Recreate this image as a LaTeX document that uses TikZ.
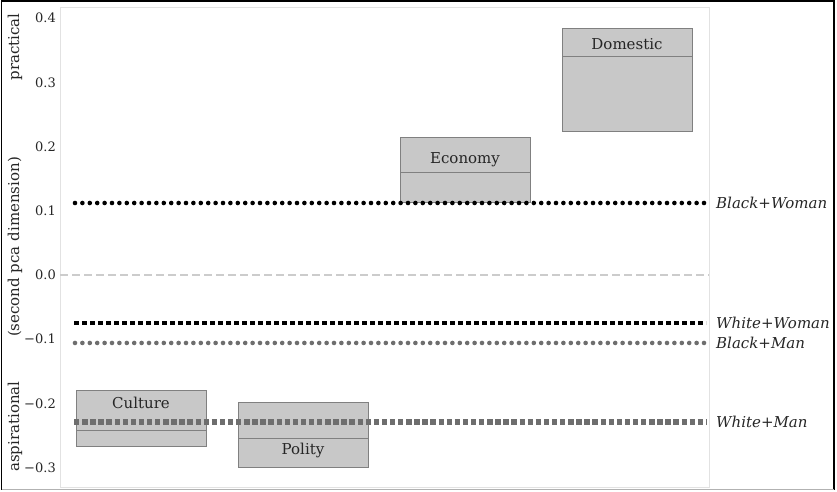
\documentclass[tikz,border=0pt]{standalone}
\usepackage{fontspec}
\setmainfont{DejaVu Serif}
\usetikzlibrary{positioning}
\definecolor{boxgray}{HTML}{C8C8C8}
\definecolor{edgegray}{HTML}{808080}
\definecolor{dotgray}{HTML}{6E6E6E}
\definecolor{zerogray}{HTML}{CCCCCC}
\definecolor{framegray}{HTML}{E2E2E2}
\definecolor{inkgray}{HTML}{262626}

\begin{document}
\begin{tikzpicture}[
    x=1pt, y=642pt,
    every node/.style={text=inkgray, inner sep=0pt},
    ticklab/.style={anchor=east, font=\fontsize{13}{15}\selectfont},
    axislab/.style={rotate=90, font=\fontsize{15}{17}\selectfont},
    boxlab/.style={font=\fontsize{15}{17}\selectfont},
    grouplab/.style={anchor=west, font=\fontsize{15}{17}\selectfont\itshape},
    box/.style={fill=boxgray, draw=edgegray, line width=0.8pt},
    boxline/.style={draw=edgegray, line width=0.8pt},
    circdots/.style={line width=4.6pt, line cap=round, dash pattern=on 0pt off 7.4pt},
    sqdots/.style={line width=4.8pt, line cap=butt, dash pattern=on 4.8pt off 3.2pt}
]
  \useasboundingbox (0,-0.3380) rectangle (837,0.4283);

  % frame
  \draw[framegray, line width=0.8pt] (60,-0.3302) rectangle (709,0.4174);
  \draw[black, line width=1.5pt] (1.5,-0.3349) -- (1.5,0.4268) -- (834,0.4268) -- (834,-0.3349);
  \draw[gray!60, line width=1pt] (1.5,-0.3349) -- (834,-0.3349);

  % ticks
  \foreach \v/\t in {0.4/0.4, 0.3/0.3, 0.2/0.2, 0.1/0.1, 0/0.0,
                     -0.1/{−0.1}, -0.2/{−0.2}, -0.3/{−0.3}}
    \node[ticklab] (tick\t) at (56,\v) {\t};

  % axis labels
  \node[axislab] (practical) at (15,0.355) {practical};
  \node[axislab] (pca) at (15,0.0436) {(second pca dimension)};
  \node[axislab] (aspir) at (15,-0.236) {aspirational};

  % boxes
  \draw[box] (76,-0.2664) rectangle (206,-0.1791);
  \draw[boxline] (76,-0.2414) -- (206,-0.2414);
  \node[boxlab] (culture) at (141,-0.1994) {Culture};

  \draw[box] (238,-0.2991) rectangle (368,-0.1978);
  \draw[boxline] (238,-0.2539) -- (368,-0.2539);
  \node[boxlab] (polity) at (303,-0.2726) {Polity};

  \draw[box] (400,0.1137) rectangle (530,0.2150);
  \draw[boxline] (400,0.1604) -- (530,0.1604);
  \node[boxlab] (economy) at (465,0.1791) {Economy};

  \draw[box] (562,0.2243) rectangle (692,0.3847);
  \draw[boxline] (562,0.3411) -- (692,0.3411);
  \node[boxlab] (domestic) at (627,0.3598) {Domestic};

  % zero line
  \coordinate (z0) at (60,0);
  \coordinate (z1) at (709,0);
  \draw[zerogray, line width=2.6pt, dash pattern=on 7.5pt off 4.5pt] (z0) -- (z1);

  % group lines
  \coordinate (bw0) at (75,0.1121);
  \coordinate (bw1) at (704,0.1121);
  \coordinate (ww0) at (74,-0.0748);
  \coordinate (ww1) at (706,-0.0748);
  \coordinate (bm0) at (75,-0.1059);
  \coordinate (bm1) at (704,-0.1059);
  \coordinate (wm0) at (74,-0.2290);
  \coordinate (wm1) at (706,-0.2290);

  \draw[circdots, black] (bw0) -- (bw1);
  \draw[sqdots, black] (ww0) -- (ww1);
  \draw[circdots, dotgray] (bm0) -- (bm1);
  \draw[sqdots, dotgray, line width=5.4pt, dash pattern=on 5.4pt off 2.7pt] (wm0) -- (wm1);

  % group labels
  \node[grouplab] (bwlab) at (716,0.1121) {Black+Woman};
  \node[grouplab] (wwlab) at (716,-0.0748) {White+Woman};
  \node[grouplab] (bmlab) at (716,-0.1059) {Black+Man};
  \node[grouplab] (wmlab) at (716,-0.2290) {White+Man};
\end{tikzpicture}
\end{document}
